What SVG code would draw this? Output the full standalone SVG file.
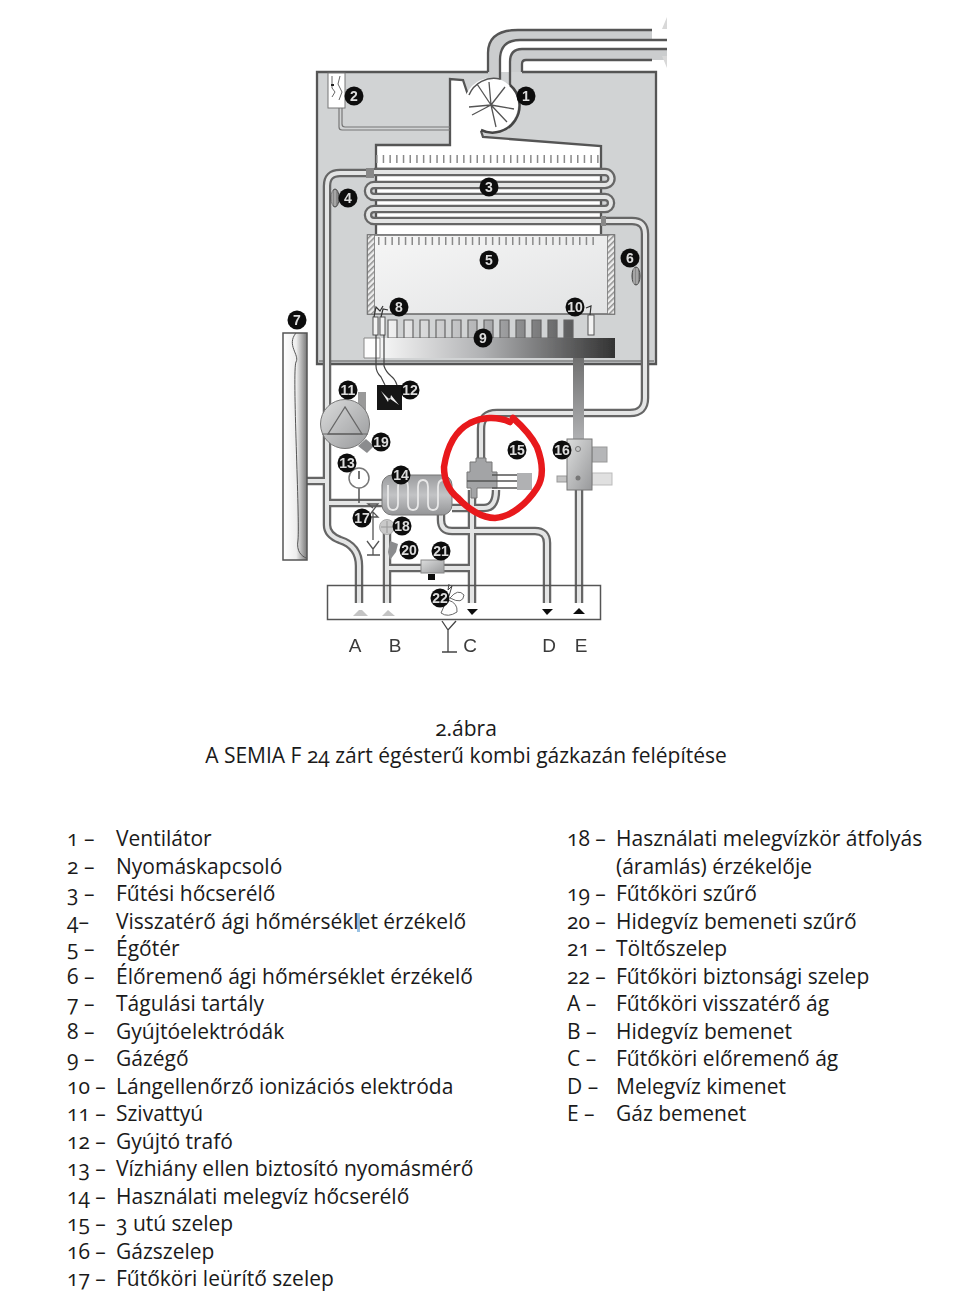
<svg xmlns="http://www.w3.org/2000/svg" width="955" height="1310" viewBox="0 0 955 1310">
<style>
text{font-family:"Open Sans","Noto Sans",sans-serif}
.t{font-size:21px;fill:#1a1a1a;font-variant-numeric:oldstyle-nums;font-feature-settings:"onum"}
.cap{text-anchor:middle}
.po,.pi{fill:none;stroke-linejoin:round}
.po{stroke:#666;stroke-width:8.500}
.pi{stroke:#e4e5e5;stroke-width:4}
.ln{fill:none;stroke:#555;stroke-width:2.300}
.b circle{fill:#111}
.b text{font-family:"Liberation Sans",sans-serif;font-size:14px;font-weight:700;fill:#ddd;text-anchor:middle}
.port{font-family:"Liberation Sans",sans-serif;font-size:19px;fill:#3a3a3a;text-anchor:middle}
</style>
<defs>
<filter id="soft" x="-2%" y="-2%" width="104%" height="104%"><feGaussianBlur stdDeviation="0.55"/></filter>
<linearGradient id="burn" gradientUnits="userSpaceOnUse" x1="375" y1="0" x2="615" y2="0"><stop offset="0" stop-color="#fafafa"/><stop offset=".45" stop-color="#b0b1b3"/><stop offset="1" stop-color="#333"/></linearGradient>
<linearGradient id="cham" x1="0" y1="0" x2="1" y2="1"><stop offset="0" stop-color="#f6f6f6"/><stop offset="1" stop-color="#e2e3e4"/></linearGradient>
<linearGradient id="metal" x1="0" y1="0" x2="1" y2="1"><stop offset="0" stop-color="#dcdddd"/><stop offset="1" stop-color="#98999b"/></linearGradient>
<linearGradient id="hx" x1="0" y1="0" x2="0" y2="1"><stop offset="0" stop-color="#9a9b9d"/><stop offset=".5" stop-color="#c2c3c5"/><stop offset="1" stop-color="#949597"/></linearGradient>
<linearGradient id="tank" x1="0" y1="0" x2="1" y2="0"><stop offset="0" stop-color="#fff"/><stop offset=".55" stop-color="#eee"/><stop offset="1" stop-color="#777"/></linearGradient>
<linearGradient id="gas" x1="0" y1="0" x2="0" y2="1"><stop offset="0" stop-color="#6e6e6e"/><stop offset="1" stop-color="#b0b1b3"/></linearGradient>
<pattern id="hatch" width="4" height="4" patternUnits="userSpaceOnUse" patternTransform="rotate(45)"><rect width="4" height="4" fill="#eee"/><rect width="1.500" height="4" fill="#8f8f8f"/></pattern>
<path id="pRet" d="M371 173H340Q327 173 327 186V525Q327 535 340 540Q359 546 359 566V603"/>
<path id="pFlow" d="M603 221H632Q645 221 645 234V398Q645 413 630 413H497Q481 413 481 429V462"/>
<path id="pC" d="M472 490V603"/>
<path id="pLoop" d="M452 508H484Q496 508 496 490"/>
<path id="pD" d="M441 515V520Q441 531 452 531H535Q547 531 547 543V603"/>
<path id="pB" d="M387 530V603"/>
<path id="pCold" d="M387 568H472"/>
<path id="pE" d="M579 490V603"/>
<path id="pHx" d="M327 503H382"/>
<path id="pTank" d="M307 481H327"/>
<path id="pCoil" d="M374 172H605A6.500 6.500 0 0 1 605 185H374A6 6 0 0 0 374 197H605A6 6 0 0 1 605 209H374A6 6 0 0 0 374 221H604"/>
</defs>
<rect width="955" height="1310" fill="#fff"/>

<g id="diagram" filter="url(#soft)">
<g id="cabinet">
<rect x="316.500" y="72" width="340" height="291" fill="#d1d3d4"/>
<path class="ln" d="M488 72H317V364H656V72H522"/>
<path d="M319 361H654" fill="none" stroke="#555" stroke-width="1"/>
<path d="M488 72V53Q488 30 518 30H652V40H520Q500 40 500 60V86H488Z" fill="#cbcdce"/>
<path d="M510 90V62Q510 49 522 49H667V60H526Q522 60 522 64V72H511Z" fill="#cbcdce"/>
<path class="ln" d="M488 72V53Q488 30 518 30H652M500 86V60Q500 40 520 40H667M510 90V62Q510 49 522 49H667M522 72V64Q522 60 526 60H652"/>
<path d="M667 17V29L662 29ZM662 56H667V68Z" fill="#d8d8d8"/>
</g>

<g id="flue-and-exchanger">
<path d="M450 79L463 80L468 95L500 80L519 105L500 130L481 131L483 137L601 146V234H376V146H450Z" fill="#fff"/>
<path class="ln" d="M468 95L463 80L450 79V145H376V234M601 234V146L483 137L481 131"/>
<path d="M376 159H600" fill="none" stroke="#8a8a8a" stroke-width="8" stroke-dasharray="1.500 5.200"/>
<path d="M376 168.500H601" fill="none" stroke="#666" stroke-width="1.500"/>
<path d="M342 108V124Q342 127 345 127H450M339 108V127Q339 130 342 130H450" fill="none" stroke="#777" stroke-width="1.200"/>
</g>

<g id="node-1-fan">
<circle cx="491" cy="105" r="27" fill="#fff"/>
<path d="M510 85A27 27 0 0 1 481 130" fill="none" stroke="#444" stroke-width="2.500"/>
<path d="M469 95A27 27 0 0 1 500 79" fill="none" stroke="#555" stroke-width="1.500"/>
<path d="M491 105L477 84M491 105L505 87M491 105L514 109M491 105L496 127M491 105L472 115M491 105L469 107M491 105L489 82M491 105L507 122" fill="none" stroke="#555" stroke-width="1.300"/>
</g>

<g id="node-2-switch">
<rect x="328" y="73" width="17" height="35" fill="#fff" stroke="#777"/>
<path d="M332 76V88L335 92L332 97M340 76L338 84L342 92L339 100" fill="none" stroke="#666"/>
<rect x="331" y="84" width="3" height="2" fill="#222"/>
</g>

<g id="node-3-coil">
<use href="#pCoil" class="po"/><use href="#pCoil" class="pi"/>
</g>

<g id="node-5-chamber">
<rect x="367.500" y="235" width="247" height="79" fill="url(#cham)" stroke="#666" stroke-width="1.500"/>
<rect x="367.500" y="235" width="7" height="79" fill="url(#hatch)" stroke="#777" stroke-width=".8"/>
<rect x="607.500" y="235" width="7" height="79" fill="url(#hatch)" stroke="#777" stroke-width=".8"/>
<path d="M378 241H596" fill="none" stroke="#8a8a8a" stroke-width="8" stroke-dasharray="1.500 5.200"/>
</g>

<g id="connectors">
<use href="#pRet" class="po"/><use href="#pFlow" class="po"/><use href="#pHx" class="po"/><use href="#pTank" class="po"/><use href="#pC" class="po"/><use href="#pLoop" class="po"/><use href="#pD" class="po"/><use href="#pB" class="po"/><use href="#pCold" class="po"/><use href="#pE" class="po"/>
<use href="#pRet" class="pi"/><use href="#pFlow" class="pi"/><use href="#pHx" class="pi"/><use href="#pTank" class="pi"/><use href="#pC" class="pi"/><use href="#pLoop" class="pi"/><use href="#pD" class="pi"/><use href="#pB" class="pi"/><use href="#pCold" class="pi"/><use href="#pE" class="pi"/>
<rect x="366" y="168" width="8" height="10" fill="#888"/>
<rect x="601" y="216" width="5" height="10" fill="#888"/>
<rect x="573" y="356" width="11" height="84" fill="url(#gas)"/>
</g>

<g id="node-9-burner">
<path d="M388 338v-18h9v18h7v-18h9v18h7v-18h9v18h7v-18h9v18h7v-18h9v18h7v-18h9v18h7v-18h9v18h7v-18h9v18h7v-18h9v18h7v-18h9v18h7v-18h9v18h7v-18h9v18z" fill="url(#burn)" stroke="#666" stroke-width="1.200"/>
<path d="M364 338H615V358H364Z" fill="url(#burn)"/>
<path d="M364 338H380V358H364Z" fill="#fdfdfd" stroke="#888"/>
</g>

<g id="node-8-electrodes">
<rect x="373" y="317" width="5" height="18" fill="#f3f3f3" stroke="#555"/>
<rect x="380" y="317" width="5" height="18" fill="#f3f3f3" stroke="#555"/>
<path d="M374 317L376 307L380 311L383 306M381 317L383 309L388 310" fill="none" stroke="#333" stroke-width="1.200"/>
</g>

<g id="node-10-electrode">
<rect x="588" y="315" width="6" height="20" fill="#f3f3f3" stroke="#555"/>
<path d="M590 315L591 306L586 308" fill="none" stroke="#333" stroke-width="1.200"/>
</g>

<g id="node-12-transformer">
<path d="M376 335V366Q376 372 381 377L385 385M384 335V366Q386 372 391 376Q395 379 397 385" fill="none" stroke="#444" stroke-width="1.200"/>
<rect x="377" y="385" width="25" height="25" fill="#151515"/>
<path d="M381 391L390 400L391 395L399 405L389 398L388 402Z" fill="#eee"/>
</g>

<g id="node-4-sensor">
<ellipse cx="335" cy="198" rx="4" ry="9" fill="#888" stroke="#444"/>
<path d="M332 190V206M335 190V206" stroke="#ddd" stroke-width=".7"/>
</g>
<g id="node-6-sensor">
<ellipse cx="636" cy="276" rx="4" ry="9" fill="#888" stroke="#444"/>
<path d="M634 268V284M637 268V284" stroke="#ddd" stroke-width=".7"/>
</g>

<g id="node-7-tank">
<path d="M283 333H307V560H283Z" fill="url(#tank)" stroke="#555" stroke-width="1.500"/>
<path d="M296 333C286 345 300 355 296 362C292 370 300 520 298 540C296 552 302 556 306 558" fill="none" stroke="#555"/>
</g>

<g id="node-11-pump">
<path d="M358 402V392H366V420H358Z" fill="#999"/>
<circle cx="345" cy="424" r="24.500" fill="url(#metal)" stroke="#777"/>
<path d="M345 407L328 434H362Z" fill="none" stroke="#666" stroke-width="1.300"/>
<path d="M322 434H368" stroke="#666"/>
</g>
<g id="node-19-filter"><path d="M358 446L366 439L374 446L367 453Z" fill="#8b8c8e"/></g>

<g id="node-13-gauge">
<path d="M359 488V503" stroke="#555" stroke-width="1.500"/>
<circle cx="359" cy="478" r="10" fill="#fff" stroke="#777" stroke-width="1.500"/>
<path d="M359 471V479" stroke="#444" stroke-width="1.500"/>
</g>

<g id="node-14-hx">
<rect x="382" y="475" width="70" height="40" rx="10" fill="url(#hx)" stroke="#777"/>
<path d="M388 485V504Q388 510 393 510Q398 510 398 504V487Q398 480 403 480Q408 480 408 487V504Q408 510 413 510Q418 510 418 504V487Q418 480 423 480Q428 480 428 487V504Q428 510 433 510Q438 510 438 504V487Q438 480 443 480Q447 480 447 487" fill="none" stroke="#e8e8e8" stroke-width="1.800"/>
</g>

<g id="node-17-drain">
<path d="M373 508L368 504H378L368 517H378L373 512V540M367 541L373 549V555M379 541L373 549M367 555H380" fill="none" stroke="#555" stroke-width="1.300"/>
</g>
<g id="node-18-flow"><circle cx="387" cy="527" r="7.500" fill="#c9c9c9" stroke="#aaa"/><path d="M381 527H393M387 521V533" stroke="#999"/></g>
<g id="node-20-filter"><path d="M390 541L398 544L396 552L390 560L388 552Z" fill="#8b8c8e"/></g>

<g id="node-21-valve">
<rect x="421" y="560" width="23" height="13" fill="url(#metal)" stroke="#888"/>
<rect x="428" y="574" width="7" height="6" fill="#111"/>
</g>

<g id="node-15-valve">
<path d="M467 488V472H470V462H476V458H486V462H492V472H497V488H477V498H471V488Z" fill="#a3a4a6" stroke="#777"/>
<path d="M467 481H517M492 475H517M492 488H517" stroke="#555" stroke-width="1.300"/>
<rect x="517" y="473" width="15" height="17" fill="#b0b1b3"/>
</g>

<g id="node-16-gasvalve">
<rect x="592" y="447" width="15" height="15" fill="#b5b6b8" stroke="#999"/>
<rect x="592" y="473" width="20" height="12" fill="#e0e0e0" stroke="#bbb"/>
<rect x="557" y="476" width="10" height="6" fill="#c4c4c4" stroke="#999"/>
<rect x="567" y="439" width="25" height="51" fill="url(#metal)" stroke="#777"/>
<circle cx="578" cy="449" r="2.500" fill="none" stroke="#777"/>
<circle cx="578" cy="478" r="2.500" fill="#777"/>
</g>

<g id="panel">
<rect x="327.500" y="585.500" width="273" height="34" fill="none" stroke="#555" stroke-width="1.500"/>
<path d="M359 610L353 616H368L362 610Z" fill="#c4c4c4"/>
<path d="M388 610L382 616H395Z" fill="#c4c4c4"/>
<path d="M467 609H478L472 615Z" fill="#111"/>
<path d="M542 609H553L547 615Z" fill="#111"/>
<path d="M579 608L573 614H585Z" fill="#111"/>
</g>

<g id="node-22-safety">
<path d="M449 584L448 590L452 586L449 596" fill="none" stroke="#444"/>
<path d="M450 598Q458 588 464 595Q463 605 450 598ZM448 600Q458 603 457 612Q448 618 441 613Q444 605 448 600Z" fill="#fff" stroke="#666"/>
<path d="M442 621L448 630L456 621M448 630V652M442 652H457" fill="none" stroke="#444" stroke-width="1.300"/>
</g>

<g id="port-labels">
<text class="port" x="355" y="652">A</text><text class="port" x="395" y="652">B</text><text class="port" x="470" y="652">C</text><text class="port" x="549" y="652">D</text><text class="port" x="581" y="652">E</text>
</g>

<g id="badges" class="b">
<g><circle cx="526" cy="96" r="9.500"/><text x="526" y="101">1</text></g>
<g><circle cx="354" cy="96" r="9.500"/><text x="354" y="101">2</text></g>
<g><circle cx="489" cy="187" r="9.500"/><text x="489" y="192">3</text></g>
<g><circle cx="348" cy="198" r="9.500"/><text x="348" y="203">4</text></g>
<g><circle cx="489" cy="260" r="9.500"/><text x="489" y="265">5</text></g>
<g><circle cx="630" cy="258" r="9.500"/><text x="630" y="263">6</text></g>
<g><circle cx="297" cy="320" r="9.500"/><text x="297" y="325">7</text></g>
<g><circle cx="399" cy="307" r="9.500"/><text x="399" y="312">8</text></g>
<g><circle cx="483" cy="338" r="9.500"/><text x="483" y="343">9</text></g>
<g><circle cx="575" cy="307" r="9.500"/><text x="575" y="312">10</text></g>
<g><circle cx="348" cy="390" r="9.500"/><text x="348" y="395">11</text></g>
<g><circle cx="410" cy="390" r="9.500"/><text x="410" y="395">12</text></g>
<g><circle cx="347" cy="463" r="9.500"/><text x="347" y="468">13</text></g>
<g><circle cx="401" cy="475" r="9.500"/><text x="401" y="480">14</text></g>
<g><circle cx="517" cy="450" r="9.500"/><text x="517" y="455">15</text></g>
<g><circle cx="562" cy="450" r="9.500"/><text x="562" y="455">16</text></g>
<g><circle cx="362" cy="518" r="9.500"/><text x="362" y="523">17</text></g>
<g><circle cx="402" cy="526" r="9.500"/><text x="402" y="531">18</text></g>
<g><circle cx="381" cy="442" r="9.500"/><text x="381" y="447">19</text></g>
<g><circle cx="409" cy="550" r="9.500"/><text x="409" y="555">20</text></g>
<g><circle cx="441" cy="551" r="9.500"/><text x="441" y="556">21</text></g>
<g><circle cx="440" cy="598" r="9.500"/><text x="440" y="603">22</text></g>
</g>
</g>

<path id="red-mark" d="M510 422C497 416 482 417 470 423C455 431 447 447 444 467C444 480 448 490 458 498C468 509 482 518 495 518C510 517 526 505 537 488C544 477 543 463 537 447C531 435 522 426 513 418" fill="none" stroke="#e8191c" stroke-width="6.500" stroke-linecap="round"/>

<g id="caption">
<text class="t cap" x="466" y="736">2.ábra</text>
<text class="t cap" x="466" y="763">A SEMIA F 24 zárt égésterű kombi gázkazán felépítése</text>
</g>

<g id="legend-left">
<text class="t" x="67" y="846">1 –</text><text class="t" x="116" y="846">Ventilátor</text>
<text class="t" x="67" y="873.500">2 –</text><text class="t" x="116" y="873.500">Nyomáskapcsoló</text>
<text class="t" x="67" y="901">3 –</text><text class="t" x="116" y="901">Fűtési hőcserélő</text>
<text class="t" x="67" y="928.500">4–</text><text class="t" x="116" y="928.500">Visszatérő ági hőmérséklet érzékelő</text>
<rect x="357" y="913" width="3" height="19" fill="#6ea8d8" opacity=".7"/>
<text class="t" x="67" y="956">5 –</text><text class="t" x="116" y="956">Égőtér</text>
<text class="t" x="67" y="983.500">6 –</text><text class="t" x="116" y="983.500">Élőremenő ági hőmérséklet érzékelő</text>
<text class="t" x="67" y="1011">7 –</text><text class="t" x="116" y="1011">Tágulási tartály</text>
<text class="t" x="67" y="1038.500">8 –</text><text class="t" x="116" y="1038.500">Gyújtóelektródák</text>
<text class="t" x="67" y="1066">9 –</text><text class="t" x="116" y="1066">Gázégő</text>
<text class="t" x="67" y="1093.500">10 –</text><text class="t" x="116" y="1093.500">Lángellenőrző ionizációs elektróda</text>
<text class="t" x="67" y="1121">11 –</text><text class="t" x="116" y="1121">Szivattyú</text>
<text class="t" x="67" y="1148.500">12 –</text><text class="t" x="116" y="1148.500">Gyújtó trafó</text>
<text class="t" x="67" y="1176">13 –</text><text class="t" x="116" y="1176">Vízhiány ellen biztosító nyomásmérő</text>
<text class="t" x="67" y="1203.500">14 –</text><text class="t" x="116" y="1203.500">Használati melegvíz hőcserélő</text>
<text class="t" x="67" y="1231">15 –</text><text class="t" x="116" y="1231">3 utú szelep</text>
<text class="t" x="67" y="1258.500">16 –</text><text class="t" x="116" y="1258.500">Gázszelep</text>
<text class="t" x="67" y="1286">17 –</text><text class="t" x="116" y="1286">Fűtőköri leürítő szelep</text>
</g>

<g id="legend-right">
<text class="t" x="567" y="846">18 –</text><text class="t" x="616" y="846">Használati melegvízkör átfolyás</text>
<text class="t" x="616" y="874">(áramlás) érzékelője</text>
<text class="t" x="567" y="901">19 –</text><text class="t" x="616" y="901">Fűtőköri szűrő</text>
<text class="t" x="567" y="929">20 –</text><text class="t" x="616" y="929">Hidegvíz bemeneti szűrő</text>
<text class="t" x="567" y="956">21 –</text><text class="t" x="616" y="956">Töltőszelep</text>
<text class="t" x="567" y="984">22 –</text><text class="t" x="616" y="984">Fűtőköri biztonsági szelep</text>
<text class="t" x="567" y="1011">A –</text><text class="t" x="616" y="1011">Fűtőköri visszatérő ág</text>
<text class="t" x="567" y="1039">B –</text><text class="t" x="616" y="1039">Hidegvíz bemenet</text>
<text class="t" x="567" y="1066">C –</text><text class="t" x="616" y="1066">Fűtőköri előremenő ág</text>
<text class="t" x="567" y="1094">D –</text><text class="t" x="616" y="1094">Melegvíz kimenet</text>
<text class="t" x="567" y="1121">E –</text><text class="t" x="616" y="1121">Gáz bemenet</text>
</g>
</svg>
